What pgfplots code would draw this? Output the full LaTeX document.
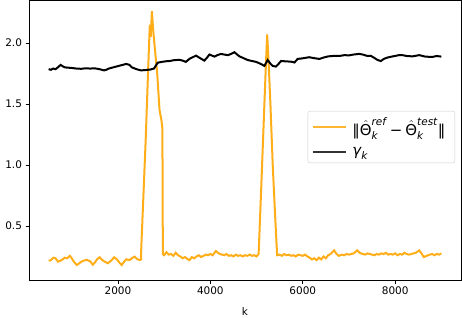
\documentclass[border=0pt]{standalone}
\usepackage{amsmath}
\usepackage{fontspec}
\setmainfont{DejaVu Sans}
\usepackage{pgfplots}
\pgfplotsset{compat=1.18}
\definecolor{mplorange}{RGB}{255,165,0}
\definecolor{legorange}{RGB}{255,183,51}
\definecolor{legblack}{RGB}{51,51,51}
\newcommand{\It}[1]{\text{\itshape #1}}
\newcommand{\hT}{\hat{\text{Θ}}}
\pgfplotstableread{
k v
500 1.785
550 1.780
600 1.790
650 1.785
700 1.800
760 1.820
800 1.810
850 1.800
900 1.798
1000 1.795
1100 1.790
1200 1.788
1300 1.792
1400 1.790
1500 1.792
1600 1.785
1700 1.775
1750 1.780
1800 1.790
1900 1.800
2000 1.810
2100 1.820
2180 1.828
2250 1.820
2300 1.800
2400 1.785
2500 1.775
2600 1.778
2700 1.782
2780 1.790
2860 1.838
2950 1.845
3050 1.850
3120 1.852
3200 1.858
3330 1.862
3400 1.855
3470 1.845
3550 1.870
3690 1.896
3780 1.875
3870 1.855
3930 1.880
3980 1.905
4090 1.888
4150 1.900
4230 1.910
4300 1.905
4380 1.900
4450 1.910
4520 1.924
4580 1.905
4630 1.890
4720 1.875
4810 1.860
4900 1.852
4990 1.845
5080 1.830
5170 1.812
5240 1.860
5300 1.830
5350 1.812
5420 1.806
5480 1.830
5530 1.852
5600 1.850
5680 1.848
5745 1.847
5820 1.840
5890 1.869
6000 1.874
6140 1.883
6250 1.875
6360 1.869
6450 1.880
6550 1.890
6650 1.893
6790 1.893
6900 1.900
7000 1.898
7100 1.905
7220 1.910
7300 1.905
7400 1.893
7470 1.895
7560 1.875
7620 1.860
7690 1.852
7760 1.870
7830 1.880
7950 1.890
8085 1.900
8155 1.900
8250 1.893
8370 1.890
8450 1.895
8520 1.900
8650 1.888
8800 1.885
8900 1.893
9000 1.888
}\gammatab
\pgfplotstableread{
k v
500 0.215
550 0.220
600 0.240
650 0.235
700 0.208
750 0.215
800 0.225
850 0.240
900 0.235
960 0.255
1000 0.235
1050 0.205
1110 0.180
1150 0.190
1200 0.205
1250 0.215
1325 0.222
1400 0.210
1455 0.182
1500 0.200
1550 0.228
1605 0.243
1650 0.225
1700 0.210
1780 0.194
1850 0.215
1920 0.243
1980 0.225
2030 0.200
2080 0.180
2130 0.205
2180 0.227
2250 0.220
2300 0.235
2360 0.248
2410 0.230
2470 0.221
2500 0.225
2505 0.320
2600 1.200
2660 1.850
2690 2.150
2710 2.050
2735 2.260
2760 2.120
2800 1.950
2850 1.750
2900 1.450
2940 1.370
2962 1.300
2972 0.270
3000 0.260
3050 0.285
3100 0.265
3150 0.270
3200 0.255
3250 0.280
3300 0.260
3350 0.250
3400 0.235
3450 0.245
3500 0.230
3550 0.220
3600 0.245
3650 0.235
3700 0.250
3750 0.260
3800 0.245
3850 0.255
3900 0.265
3950 0.260
4000 0.270
4050 0.260
4120 0.295
4180 0.275
4250 0.265
4300 0.260
4350 0.270
4400 0.255
4450 0.260
4500 0.250
4550 0.265
4600 0.255
4650 0.260
4700 0.250
4750 0.260
4800 0.255
4850 0.265
4900 0.255
4950 0.260
5000 0.250
5045 0.270
5100 0.800
5150 1.300
5200 1.800
5230 2.070
5260 1.850
5300 1.500
5350 1.000
5400 0.600
5445 0.260
5500 0.265
5550 0.255
5600 0.270
5650 0.260
5700 0.265
5750 0.255
5800 0.260
5850 0.250
5900 0.265
5950 0.260
6000 0.255
6050 0.265
6100 0.250
6150 0.240
6200 0.225
6250 0.235
6300 0.220
6350 0.240
6400 0.225
6450 0.250
6500 0.235
6550 0.260
6600 0.270
6680 0.300
6720 0.275
6780 0.255
6850 0.265
6900 0.260
6950 0.270
7000 0.265
7050 0.270
7100 0.275
7180 0.300
7230 0.280
7300 0.270
7350 0.265
7400 0.275
7450 0.270
7500 0.265
7550 0.260
7600 0.270
7650 0.265
7700 0.275
7750 0.270
7800 0.280
7850 0.265
7900 0.270
7950 0.265
8000 0.275
8050 0.260
8100 0.270
8150 0.265
8200 0.280
8250 0.270
8300 0.265
8350 0.270
8400 0.275
8450 0.280
8520 0.300
8570 0.275
8620 0.245
8680 0.255
8750 0.265
8800 0.270
8850 0.260
8900 0.270
8950 0.265
9000 0.275
}\normtab
\begin{document}
\begin{tikzpicture}
\useasboundingbox (0,0) rectangle (462bp,318bp);
\begin{axis}[
  at={(29bp,38bp)}, anchor=south west,
  scale only axis, width=432bp, height=280bp,
  xmin=75, xmax=9425, ymin=0.057, ymax=2.352,
  xtick={2000,4000,6000,8000}, ytick={0.5,1.0,1.5,2.0},
  xtick pos=left, ytick pos=left, tick align=outside,
  major tick length=3.5bp,
  every tick/.style={black, line width=0.8bp},
  axis line style={line width=0.8bp},
  ticklabel style={font=\fontsize{10.5}{12}\selectfont},
  /pgf/number format/assume math mode=true,
  x tick label style={/pgf/number format/1000 sep={}},
  y tick label style={/pgf/number format/.cd, fixed, fixed zerofill, precision=1},
  xlabel={k},
  xlabel style={font=\fontsize{10.5}{12}\selectfont, at={(axis description cs:0.5,0)}, anchor=center, yshift=-31.7bp},
  legend style={at={(1,0.5)}, xshift=-6bp, yshift=3bp, anchor=east, draw=black!20, rounded corners=2bp,
    fill=white, fill opacity=0.8, text opacity=1, font=\fontsize{15}{17}\selectfont,
    row sep=6bp, inner xsep=4bp, inner ysep=4bp,
    nodes={inner xsep=5.5bp}},
  legend cell align=left,
  legend image code/.code={\draw[#1] (0bp,0bp) -- (33bp,0bp);},
]
\addplot[mplorange, line width=2bp, opacity=0.9, forget plot] table[x=k,y=v] {\normtab};
\addplot[black, line width=2bp, forget plot] table[x=k,y=v] {\gammatab};
\addlegendimage{legorange, line width=2bp}
\addlegendentry{‖$\hT_{\It{k}}^{\It{ref}} \mathbin{\text{−}} \hT_{\It{k}}^{\It{test}}$‖}
\addlegendimage{legblack, line width=2bp}
\addlegendentry{$\It{γ}_{\It{k}}$}
\end{axis}
\end{tikzpicture}
\end{document}
